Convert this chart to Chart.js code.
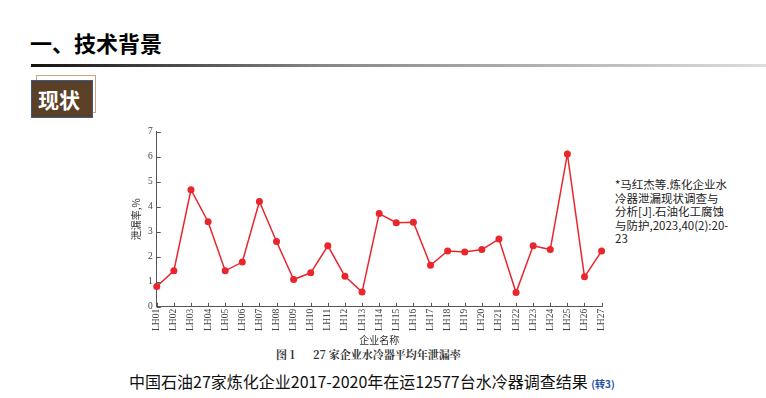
<!DOCTYPE html>
<html>
<head>
<meta charset="utf-8">
<script src="https://cdn.jsdelivr.net/npm/chart.js@4"></script>
<style>
  body { margin: 0; width: 766px; height: 398px; background: #fff; position: relative; overflow: hidden;
         font-family: "Noto Sans CJK SC", "Noto Sans", sans-serif; }
  #title { position: absolute; left: 30px; top: 26px; font-size: 22px; font-weight: bold; color: #000; }
  #rule { position: absolute; left: 31px; top: 64px; width: 735px; height: 3px;
          background: linear-gradient(to right, #111, #888 40%, #ddd); }
  #tagBack { position: absolute; left: 36px; top: 75px; width: 58px; height: 36px; border: 1px solid #c9a57c; }
  #tag { position: absolute; left: 31px; top: 80px; width: 60px; height: 36px; background: #5a4027;
         border: 1px solid #3d5a88; color: #fff; font-size: 21px; font-weight: bold; line-height: 36px;
         text-indent: 6px; }
  #chartBox { position: absolute; left: 128px; top: 122px; width: 487px; height: 224px; }
  #fig { position: absolute; left: 276px; top: 346px; font-family: "Noto Serif CJK SC", "Noto Sans CJK SC", serif;
         font-size: 11px; font-weight: bold; color: #333; white-space: nowrap; }
  #fig span { margin-left: 18px; }
  #note { position: absolute; left: 615px; top: 178px; font-size: 11.5px; line-height: 13.5px; color: #222;
          white-space: nowrap; }
  #foot { position: absolute; left: 129px; top: 369px; font-size: 16px; color: #111; white-space: nowrap; }
  #foot span { font-size: 10px; color: #2a4fa8; font-weight: bold; }
</style>
</head>
<body>
<div id="title">一、技术背景</div>
<div id="rule"></div>
<div id="tagBack"></div>
<div id="tag">现状</div>
<div id="chartBox"><canvas id="chart"></canvas></div>
<div id="fig">图 1<span>27 家企业水冷器平均年泄漏率</span></div>
<div id="note">*马红杰等.炼化企业水<br>冷器泄漏现状调查与<br>分析[J].石油化工腐蚀<br>与防护,2023,40(2):20-<br>23</div>
<div id="foot">中国石油27家炼化企业2017-2020年在运12577台水冷器调查结果 <span>(转3)</span></div>
<script>
const companies = ['LH01','LH02','LH03','LH04','LH05','LH06','LH07','LH08','LH09','LH10','LH11','LH12','LH13','LH14',
                   'LH15','LH16','LH17','LH18','LH19','LH20','LH21','LH22','LH23','LH24','LH25','LH26','LH27'];
const leakRate = [0.81, 1.44, 4.68, 3.40, 1.44, 1.79, 4.21, 2.61, 1.09, 1.36, 2.44, 1.22, 0.59, 3.73,
                  3.36, 3.38, 1.66, 2.23, 2.19, 2.29, 2.71, 0.57, 2.44, 2.29, 6.11, 1.20, 2.23];
const yTicks = [0, 1, 2, 3, 4, 5, 6, 7];

// tick marks drawn inward like the journal figure
const innerTicks = {
    id: 'innerTicks',
    afterDraw(chart) {
        const ctx = chart.ctx;
        const xs = chart.scales.x, ys = chart.scales.y;
        const area = chart.chartArea;
        ctx.save();
        ctx.strokeStyle = '#555';
        ctx.lineWidth = 1;
        ctx.beginPath();
        xs.ticks.forEach((t, i) => {
            const px = Math.round(xs.getPixelForTick(i)) + 0.5;
            ctx.moveTo(px, area.bottom);
            ctx.lineTo(px, area.bottom - 4);
        });
        ys.ticks.forEach((t, i) => {
            const py = Math.round(ys.getPixelForTick(i)) + 0.5;
            ctx.moveTo(area.left, py);
            ctx.lineTo(area.left + 4, py);
        });
        ctx.stroke();
        ctx.restore();
    }
};

new Chart(document.getElementById('chart'), {
    type: 'line',
    data: {
        labels: companies,
        datasets: [{
            data: leakRate,
            borderColor: '#e8262c',
            backgroundColor: '#e8262c',
            borderWidth: 1.5,
            pointRadius: 3.5,
            pointBorderWidth: 0,
            tension: 0
        }]
    },
    options: {
        responsive: true,
        maintainAspectRatio: false,
        animation: false,
        layout: { padding: { top: 4, right: 4 } },
        plugins: { legend: { display: false }, tooltip: { enabled: false } },
        scales: {
            x: {
                offset: false,
                grid: { display: false, drawTicks: false },
                border: { color: '#555', width: 1 },
                ticks: { autoSkip: false, minRotation: 90, maxRotation: 90, padding: 2, color: '#444',
                         font: { family: 'Liberation Serif', size: 9.5 } },
                title: { display: true, text: '企业名称', color: '#333', padding: { top: 1, bottom: 0 },
                         font: { family: 'Noto Sans CJK SC', size: 10 } }
            },
            y: {
                min: 0, max: 7,
                afterBuildTicks: s => { s.ticks = yTicks.map(v => ({ value: v })); },
                grid: { display: false, drawTicks: false },
                border: { color: '#555', width: 1 },
                ticks: { padding: 4, color: '#444', font: { family: 'Liberation Serif', size: 9.5 } },
                title: { display: true, text: '泄漏率,%', color: '#333', padding: 2,
                         font: { family: 'Noto Sans CJK SC', size: 10 } }
            }
        }
    },
    plugins: [innerTicks]
});
</script>
</body>
</html>
